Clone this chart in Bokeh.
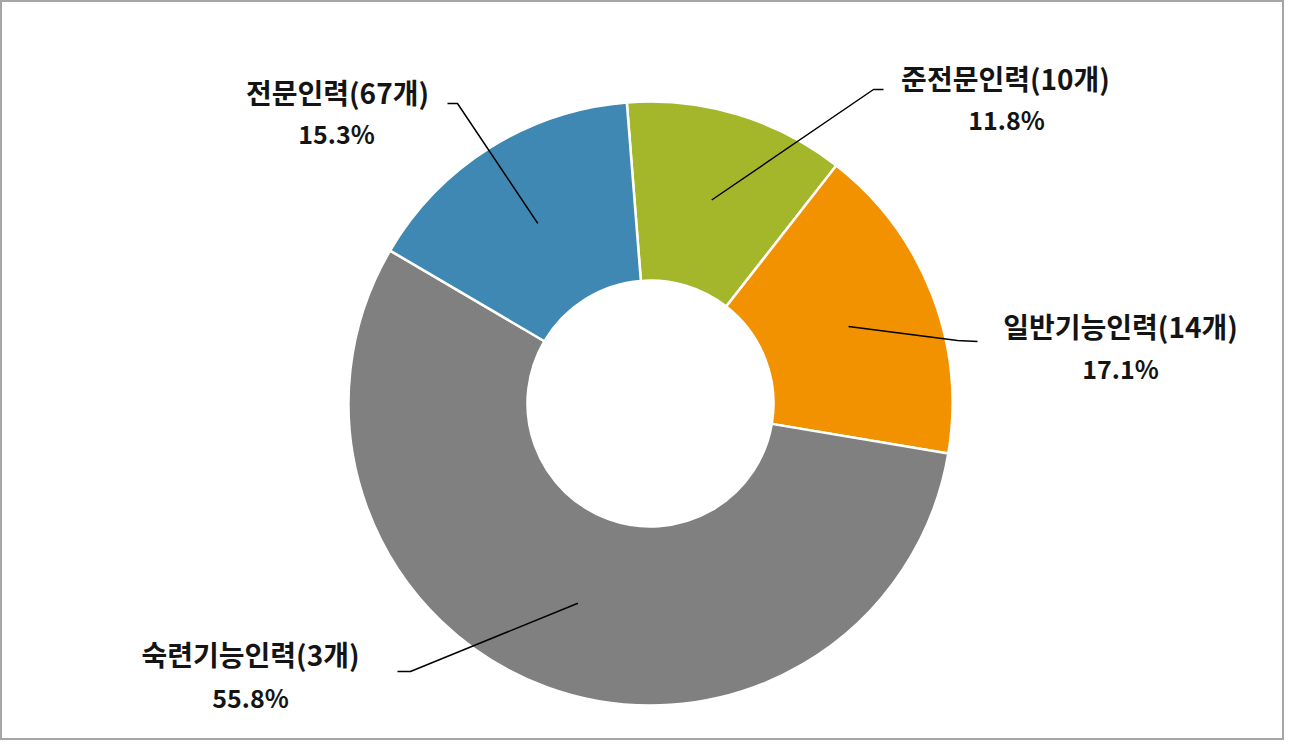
import math
from bokeh.plotting import figure
from bokeh.models import Range1d, ColumnDataSource
from bokeh.core.properties import value
from bokeh.embed import file_html
from bokeh.resources import INLINE

# ---- data ----
names = ["준전문인력", "일반기능인력", "숙련기능인력", "전문인력"]
counts = ["10개", "14개", "3개", "67개"]
shares = [11.8, 17.1, 55.8, 15.3]
colors = ["#A4B72A", "#F39200", "#808080", "#3F88B3"]

# ---- layout ----
W, H = 1284, 740
R_OUT, R_IN = 302, 123
START_OFFSET_DEG = 4.5  # first slice starts slightly left of 12 o'clock

# label layout (name center, pct center, leader elbow points), relative to donut center
name_pos = [(355, 326), (470, 78), (-400, -250), (-313, 312)]
pct_pos = [(356, 285), (470, 36), (-400, -293), (-314, 271)]
elbow_end = [(233, 314), (327, 62), (-253, -268), (-203, 300)]
elbow_mid = [(223, 314), (307, 63), (-240, -268), (-193, 300)]

total = sum(shares)
starts, ends, mids = [], [], []
a = math.radians(90 + START_OFFSET_DEG)
for s in shares:
    sweep = 2 * math.pi * s / total
    starts.append(a)
    ends.append(a - sweep)
    mids.append(a - sweep / 2)
    a -= sweep

p = figure(width=W, height=H, output_backend="svg", toolbar_location=None,
           x_range=Range1d(-650, W - 650), y_range=Range1d(403 - H, 403),
           min_border=0, match_aspect=False)
p.axis.visible = False
p.grid.visible = False
p.outline_line_color = "#A6A6A6"
p.outline_line_width = 3
p.background_fill_color = "white"
p.border_fill_color = "white"

src = ColumnDataSource(dict(start=starts, end=ends, color=colors))
p.annular_wedge(x=0, y=0, inner_radius=R_IN, outer_radius=R_OUT,
                start_angle="start", end_angle="end", direction="clock",
                fill_color="color", line_color="white", line_width=2.5,
                source=src)

# leader lines
r_mid = (R_IN + R_OUT) / 2
xs, ys = [], []
for m, e, md in zip(mids, elbow_end, elbow_mid):
    px, py = r_mid * math.cos(m), r_mid * math.sin(m)
    xs.append([e[0], md[0], px])
    ys.append([e[1], md[1], py])
p.multi_line(xs=xs, ys=ys, line_color="#000000", line_width=1.5)

font = value("Noto Sans CJK KR")
p.text(x=[q[0] for q in name_pos], y=[q[1] for q in name_pos],
       text=[f"{n}({c})" for n, c in zip(names, counts)],
       text_font=font, text_font_style="bold", text_font_size="28px",
       text_color="#141414", text_align="center", text_baseline="middle")
p.text(x=[q[0] for q in pct_pos], y=[q[1] for q in pct_pos],
       text=[f"{s:.1f}%" for s in shares],
       text_font=font, text_font_style="bold", text_font_size="25px",
       text_color="#141414", text_align="center", text_baseline="middle")

open("out.html", "w").write(file_html(p, INLINE))
